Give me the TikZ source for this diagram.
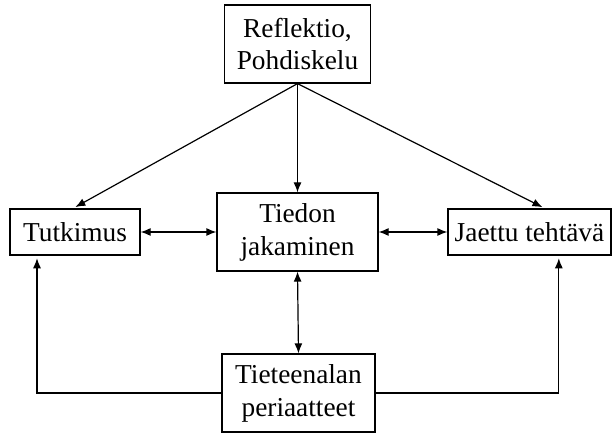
\documentclass[tikz,border=0pt]{standalone}
\usepackage{fontspec}
\setmainfont{Liberation Serif}
\usetikzlibrary{arrows.meta}

\begin{document}
\begin{tikzpicture}[x=0.75pt, y=-0.75pt,
        box/.style={draw, line width=0.9pt, inner sep=0pt, align=center,
            font=\fontsize{20.5}{24.7}\selectfont},
        link/.style={line width=0.9pt, -{Latex[length=7.5pt,width=6pt]}},
        twoway/.style={line width=0.9pt, {Latex[length=7.5pt,width=6pt]}-{Latex[length=7.5pt,width=6pt]}}]
    \useasboundingbox (0,0) rectangle (615,434);

    % Boxes
    \node[box, minimum width=110pt, minimum height=58.5pt] (refl) at (297.5,44) {Reflektio,\\Pohdiskelu};
    \node[box, minimum width=97.5pt, minimum height=34.5pt] (tutk) at (75,232) {Tutkimus};
    \node[box, minimum width=120.75pt, minimum height=58.5pt] (tieto) at (297.5,232) {Tiedon\\jakaminen};
    \node[box, minimum width=122.25pt, minimum height=34.5pt] (jaettu) at (529.5,232) {Jaettu tehtävä};
    \node[box, minimum width=114.75pt, minimum height=58.5pt] (periaate) at (298.5,393) {Tieteenalan\\periaatteet};

    % From the top box down
    \draw[link, shorten >=2pt] (refl.south) -- ([xshift=-1.5pt]tutk.north);
    \draw[link] (refl.south) -- (tieto.north);
    \draw[link, shorten >=2pt] (refl.south) -- ([xshift=11.5pt]jaettu.north);

    % Both ways
    \draw[twoway] (tutk.east) -- (tieto.west);
    \draw[twoway] (tieto.east) -- (jaettu.west);
    \draw[twoway] (tieto.south) -- (periaate.north);

    % Round the sides
    \draw[link, shorten >=2pt] (periaate.west) -| ([xshift=-28.5pt]tutk.south);
    \draw[link, shorten >=2pt] (periaate.east) -| ([xshift=22pt]jaettu.south);
\end{tikzpicture}
\end{document}
